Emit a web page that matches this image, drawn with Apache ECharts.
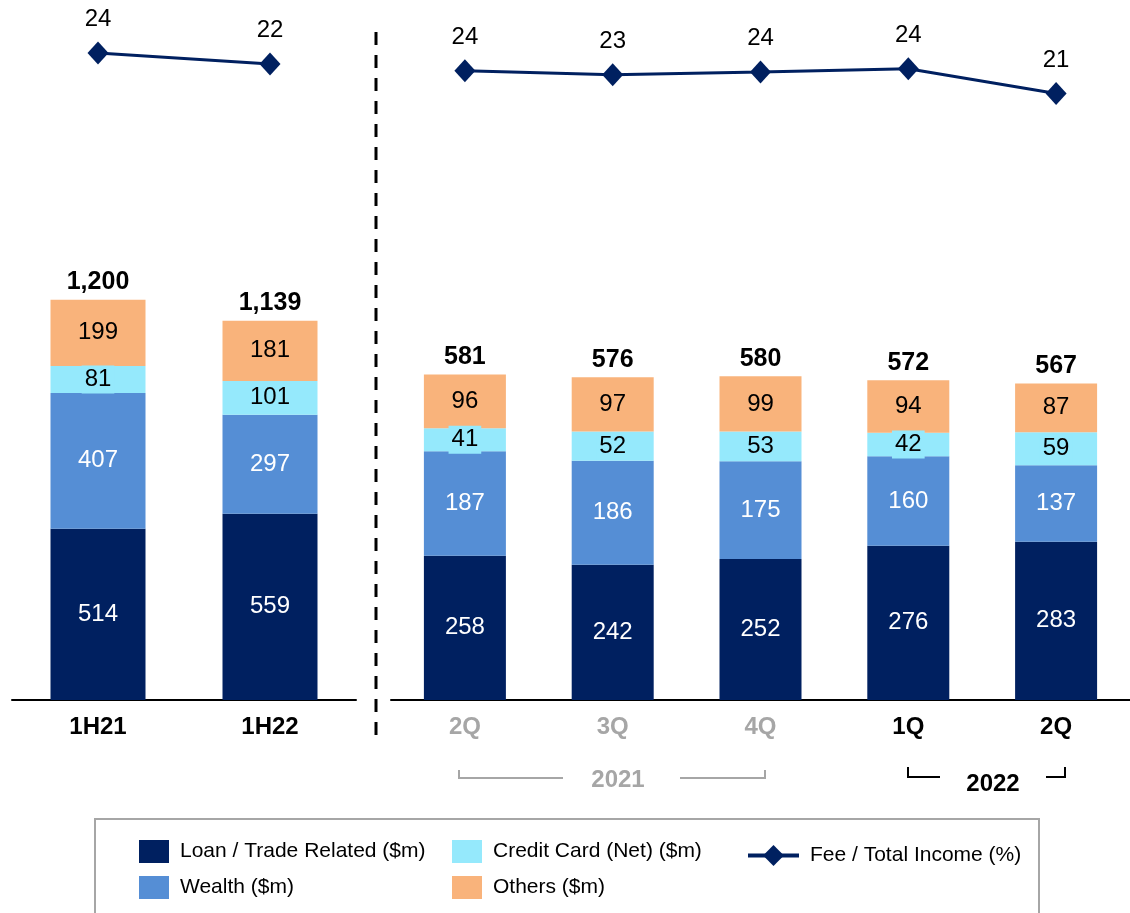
<html>
<head>
<meta charset="utf-8">
<title>Fee income</title>
<script src="https://cdn.jsdelivr.net/npm/echarts@6/dist/echarts.min.js"></script>
</head>
<body style="margin:0">
	<div id="main" style="width: 1130px; height: 913px;"></div>
	<script type="text/javascript">
		// half year data
		var halfCats = ['1H21', '1H22'];
		var loanH = [514, 559];
		var wealthH = [407, 297];
		var cardH = [81, 101];
		var othersH = [199, 181];
		var totalH = [1200, 1139];
		var feeH = [24.2, 22.2];

		// quarter data
		var qtrCats = ['2Q21', '3Q21', '4Q21', '1Q22', '2Q22'];
		var qtrLabels = ['2Q', '3Q', '4Q', '1Q', '2Q'];
		var loanQ = [258, 242, 252, 276, 283];
		var wealthQ = [187, 186, 175, 160, 137];
		var cardQ = [41, 52, 53, 42, 59];
		var othersQ = [96, 97, 99, 94, 87];
		var totalQ = [581, 576, 580, 572, 567];
		var feeQ = [23.95, 23.45, 23.8, 24.2, 21.1];

		var names = ['Loan / Trade Related ($m)', 'Wealth ($m)', 'Credit Card (Net) ($m)', 'Others ($m)', 'Fee / Total Income (%)'];
		var colors = ['#002060', '#558ED5', '#95E9FC', '#F9B37B'];
		var font = 'Liberation Sans, Arial, sans-serif';

		var myChart = echarts.init(document.getElementById('main'));

		function barSeries(idx, data, xi, stack, width) {
			var lbl = {
				show: true,
				position: 'inside',
				fontSize: 24,
				fontFamily: font,
				color: idx < 2 ? '#fff' : '#000'
			};
			if (idx == 2) {
				lbl.backgroundColor = colors[2];
				lbl.padding = [2, 3];
			}
			return {
				name: names[idx],
				type: 'bar',
				stack: stack,
				xAxisIndex: xi,
				yAxisIndex: xi,
				barWidth: width,
				itemStyle: { color: colors[idx] },
				label: lbl,
				data: data
			};
		}

		function totalSeries(totals, xi, stack, width) {
			return {
				type: 'bar',
				stack: stack,
				xAxisIndex: xi,
				yAxisIndex: xi,
				barWidth: width,
				itemStyle: { color: 'transparent' },
				label: {
					show: true,
					position: 'top',
					distance: 5,
					fontSize: 25,
					fontWeight: 'bold',
					fontFamily: font,
					color: '#000',
					formatter: function (p) {
						return totals[p.dataIndex].toLocaleString('en-US');
					}
				},
				data: totals.map(function () { return 0; })
			};
		}

		function lineSeries(data, xi) {
			return {
				name: names[4],
				type: 'line',
				xAxisIndex: xi,
				yAxisIndex: xi,
				symbol: 'diamond',
				symbolSize: [21, 23],
				lineStyle: { color: '#002060', width: 3 },
				itemStyle: { color: '#002060' },
				label: {
					show: true,
					position: 'top',
					distance: 10,
					fontSize: 24,
					fontFamily: font,
					color: '#000',
					formatter: function (p) { return Math.round(p.value); }
				},
				data: data
			};
		}

		function catAxis(gi, cats, labelFn) {
			return {
				type: 'category',
				gridIndex: gi,
				data: cats,
				axisLine: { show: gi < 2, lineStyle: { color: '#000', width: 2 } },
				axisTick: { show: false },
				axisLabel: {
					show: gi < 2,
					margin: 15,
					formatter: labelFn,
					rich: {
						b: { fontSize: 24, fontWeight: 'bold', fontFamily: font, color: '#000' },
						g: { fontSize: 24, fontWeight: 'bold', fontFamily: font, color: '#A6A6A6' }
					}
				}
			};
		}

		function valAxis(gi, min, max) {
			return {
				type: 'value',
				gridIndex: gi,
				min: min,
				max: max,
				show: false
			};
		}

		var legendText = { fontSize: 21, fontFamily: font, color: '#000', padding: [0, 0, 0, 6] };
		function legendItem(name, left, top, icon, w, h) {
			var lg = {
				data: [name],
				left: left,
				top: top,
				padding: 0,
				itemWidth: w,
				itemHeight: h,
				selectedMode: false,
				textStyle: legendText
			};
			if (icon) lg.icon = icon;
			else lg.lineStyle = { width: 4 };
			return lg;
		}

		myChart.setOption({
			animation: false,
			grid: [
				{ left: 12, width: 344, top: 20, height: 680 },
				{ left: 391, width: 739, top: 20, height: 680 },
				{ left: 12, width: 344, top: 40, height: 80 },
				{ left: 391, width: 739, top: 40, height: 80 }
			],
			xAxis: [
				catAxis(0, halfCats, function (v) { return '{b|' + v + '}'; }),
				catAxis(1, qtrCats, function (v, i) {
					return (i < 3 ? '{g|' : '{b|') + qtrLabels[i] + '}';
				}),
				catAxis(2, halfCats),
				catAxis(3, qtrCats)
			],
			yAxis: [
				valAxis(0, 0, 2040),
				valAxis(1, 0, 1216),
				valAxis(2, 12, 26.55),
				valAxis(3, 17.8, 27.8)
			],
			legend: [
				legendItem(names[0], 139, 840, 'rect', 30, 23),
				legendItem(names[2], 452, 840, 'rect', 30, 23),
				legendItem(names[4], 746, 845, null, 51, 26),
				legendItem(names[1], 139, 876, 'rect', 30, 23),
				legendItem(names[3], 452, 876, 'rect', 30, 23)
			],
			graphic: [
				{ type: 'rect', shape: { x: 95, y: 819, width: 944, height: 110 }, style: { fill: 'none', stroke: '#A6A6A6', lineWidth: 2 } },
				{ type: 'line', shape: { x1: 376, y1: 32, x2: 376, y2: 745 }, style: { stroke: '#000', lineWidth: 3, lineDash: [13, 10] } },
				{ type: 'polyline', shape: { points: [[459, 770], [459, 778], [563, 778]] }, style: { fill: 'none', stroke: '#A6A6A6', lineWidth: 2 } },
				{ type: 'polyline', shape: { points: [[680, 778], [765, 778], [765, 770]] }, style: { fill: 'none', stroke: '#A6A6A6', lineWidth: 2 } },
				{ type: 'text', x: 618, y: 780, style: { text: '2021', fill: '#A6A6A6', font: 'bold 24px ' + font, textAlign: 'center', textVerticalAlign: 'middle' } },
				{ type: 'polyline', shape: { points: [[908, 767], [908, 777], [940, 777]] }, style: { fill: 'none', stroke: '#000', lineWidth: 2 } },
				{ type: 'polyline', shape: { points: [[1046, 777], [1065, 777], [1065, 767]] }, style: { fill: 'none', stroke: '#000', lineWidth: 2 } },
				{ type: 'text', x: 993, y: 784, style: { text: '2022', fill: '#000', font: 'bold 24px ' + font, textAlign: 'center', textVerticalAlign: 'middle' } }
			],
			series: [
				barSeries(0, loanH, 0, 'H', 95),
				barSeries(1, wealthH, 0, 'H', 95),
				barSeries(2, cardH, 0, 'H', 95),
				barSeries(3, othersH, 0, 'H', 95),
				totalSeries(totalH, 0, 'H', 95),
				barSeries(0, loanQ, 1, 'Q', 82),
				barSeries(1, wealthQ, 1, 'Q', 82),
				barSeries(2, cardQ, 1, 'Q', 82),
				barSeries(3, othersQ, 1, 'Q', 82),
				totalSeries(totalQ, 1, 'Q', 82),
				lineSeries(feeH, 2),
				lineSeries(feeQ, 3)
			]
		});
	</script>
</body>
</html>
